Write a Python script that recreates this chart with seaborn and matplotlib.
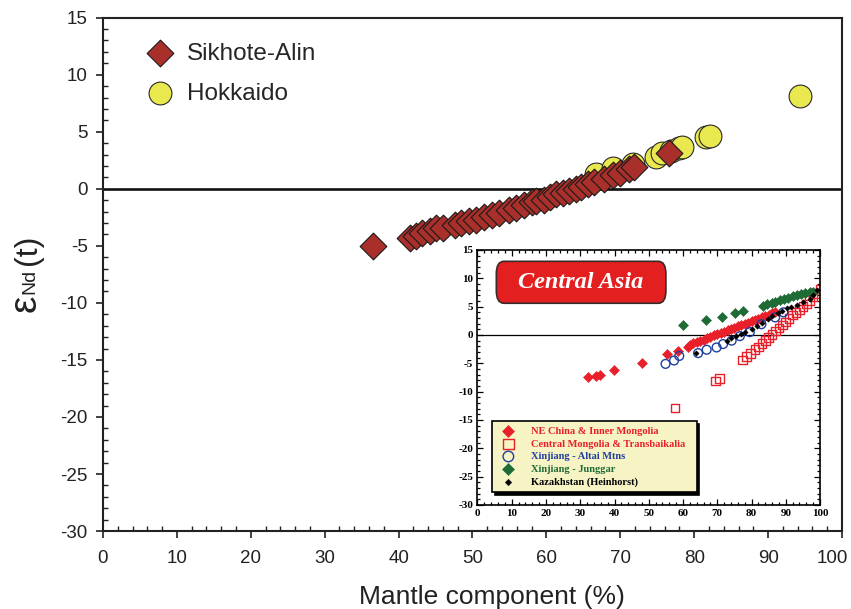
import matplotlib
matplotlib.use("Agg")
import matplotlib.pyplot as plt
import matplotlib.transforms as mtransforms
import seaborn as sns
from matplotlib.patches import FancyBboxPatch
from matplotlib.ticker import MultipleLocator

# ── data ─────────────────────────────────────────────────────────────────────
sikhote_x = [36.5, 41.5, 42.4, 43.2, 44.2, 45.1, 46.0, 47.6, 48.5, 49.5, 50.5, 51.5,
             52.7, 53.6, 55.0, 55.9, 57.0, 58.0, 58.6, 59.7, 60.5, 61.3, 62.2, 63.0,
             64.0, 64.7, 65.6, 66.5, 67.8, 69.0, 70.0, 71.2, 71.8, 76.6]
sikhote_y = [-5.0, -4.3, -4.1, -3.9, -3.7, -3.4, -3.4, -3.2, -3.0, -2.8, -2.7, -2.5,
             -2.3, -2.1, -1.9, -1.7, -1.4, -1.2, -1.1, -1.0, -0.7, -0.5, -0.4, -0.2,
             0.0, 0.2, 0.4, 0.6, 0.9, 1.2, 1.4, 1.7, 1.9, 3.1]
hokkaido_x = [66.7, 69.0, 71.7, 74.8, 75.7, 76.8, 78.0, 78.4, 81.6, 82.2, 94.3]
hokkaido_y = [1.3, 1.8, 2.2, 2.8, 3.1, 3.3, 3.6, 3.7, 4.5, 4.6, 8.1]

# inset (Central Asia)
nec_x = [32.3, 34.7, 35.7, 39.8, 47.9, 55.2, 58.4, 61.5, 62, 63, 64, 65, 66, 67, 68, 69,
         70, 71, 72, 73, 74, 75, 76, 77, 78, 79, 80, 81, 82, 83, 84, 85, 86, 87]
nec_y = [-7.5, -7.2, -7.0, -6.2, -4.9, -3.4, -2.9, -2.1, -1.8, -1.5, -1.3, -1.0, -0.8,
         -0.5, -0.3, 0.0, 0.2, 0.4, 0.6, 0.9, 1.1, 1.3, 1.6, 1.8, 2.0, 2.2, 2.4, 2.7,
         2.9, 3.1, 3.3, 3.5, 3.8, 4.0]
cmt_x = [57.6, 69.5, 70.6, 77.4, 78.5, 79.7, 81, 82, 83, 84, 85, 86, 87, 88, 89, 90,
         91, 92, 93, 94, 95, 96, 97, 98, 99, 100]
cmt_y = [-12.9, -8.1, -7.7, -4.4, -3.8, -3.3, -2.6, -2.1, -1.5, -1.0, -0.4, 0.1, 0.7,
         1.2, 1.8, 2.3, 2.9, 3.5, 4.0, 4.5, 5.0, 5.5, 6.1, 6.7, 7.3, 8.1]
altai_x = [54.9, 57.4, 58.9, 64.4, 66.9, 69.8, 71.7, 74.2, 76.6, 79.5, 82.9, 86.9, 89.3]
altai_y = [-5.1, -4.5, -3.7, -3.2, -2.6, -2.2, -1.6, -1.0, -0.2, 0.5, 1.9, 3.1, 4.0]
jung_x = [60.0, 66.7, 71.3, 75.2, 77.4, 83.4, 84.5, 85.9, 87.0, 88.3, 89.5, 90.7, 92.0,
          93.2, 94.5, 95.6, 97.0, 98.0]
jung_y = [1.8, 2.6, 3.2, 3.9, 4.2, 5.2, 5.5, 5.7, 5.9, 6.1, 6.3, 6.5, 6.8, 7.1, 7.2,
          7.4, 7.5, 7.6]
kaz_x = [63.8, 72.9, 74.0, 75.6, 77.0, 78.1, 80.0, 81.5, 83.0, 84.9, 86.0, 87.8, 89.0,
         90.3, 91.5, 93.2, 95.0, 97.1, 98.0, 99.1]
kaz_y = [-3.2, -1.0, -0.6, -0.2, 0.2, 0.5, 1.1, 1.6, 2.2, 2.8, 3.3, 3.9, 4.3, 4.7, 4.9,
         5.3, 5.8, 6.3, 7.0, 7.9]

sns.set_style("ticks")
plt.rcParams["font.family"] = ["Liberation Sans", "DejaVu Sans"]
plt.rcParams["axes.unicode_minus"] = False

fig = plt.figure(figsize=(8.51, 6.09), dpi=100)
ax = fig.add_axes([0.121, 0.128, 0.8684, 0.843])

# ── main plot ────────────────────────────────────────────────────────────────
ax.axhline(0, color="#111111", lw=1.9, zorder=1)
sns.scatterplot(x=hokkaido_x, y=hokkaido_y, ax=ax, marker="o", s=270,
                color="#E9E84E", edgecolor="#2a2a2a", linewidth=0.8,
                label="Hokkaido", zorder=3, legend=False)
sns.scatterplot(x=sikhote_x, y=sikhote_y, ax=ax, marker="D", s=185,
                color="#A9302A", edgecolor="#1a1a1a", linewidth=0.8,
                label="Sikhote-Alin", zorder=4, legend=False)

ax.set_xlim(0, 100)
ax.set_ylim(-30, 15)
ax.set_xticks(range(0, 101, 10))
ax.xaxis.set_minor_locator(MultipleLocator(2))
ax.yaxis.set_major_locator(MultipleLocator(5))
ax.yaxis.set_minor_locator(MultipleLocator(1))
ax.tick_params(which="major", direction="out", length=5, width=1.2,
               labelsize=13.5, colors="#222222")
ax.tick_params(axis="x", which="major", pad=9)
ax.tick_params(axis="y", which="major", pad=6)
ax.tick_params(which="minor", direction="in", length=3.5, width=1, colors="#222222")
for sp in ax.spines.values():
    sp.set_linewidth(1.5)
    sp.set_color("#222222")

# last x label sits slightly left so it fits in the figure
fig.canvas.draw()
for lab in ax.get_xticklabels():
    if lab.get_text() == "100":
        lab.set_transform(lab.get_transform() +
                          mtransforms.ScaledTranslation(-7 / 72, 0, fig.dpi_scale_trans))

ax.set_xlabel("Mantle component (%)", fontsize=19, color="#222222")
ax.xaxis.set_label_coords(0.527, -0.105)
ax.set_ylabel("")
fig.text(26 / 851, 1 - 303 / 609, "ε", fontsize=28, rotation=90,
         ha="center", va="center", color="#222222")
fig.text(30 / 851, 1 - 281 / 609, "Nd", fontsize=14, rotation=90,
         ha="center", va="center", color="#222222")
fig.text(28 / 851, 1 - 250 / 609, "(t)", fontsize=23, rotation=90,
         ha="center", va="center", color="#222222")

h, l = ax.get_legend_handles_labels()
order = [l.index("Sikhote-Alin"), l.index("Hokkaido")]
ax.legend([h[i] for i in order], [l[i] for i in order], loc="upper left",
          bbox_to_anchor=(0.0387, 0.970), frameon=False, fontsize=17.5,
          handlelength=1.5, handletextpad=0.39, labelspacing=0.74,
          borderaxespad=0)

# ── inset: Central Asia ──────────────────────────────────────────────────────
ins = fig.add_axes([0.5611, 0.1708, 0.4025, 0.4187])
ins.set_facecolor("white")
ins.axhline(0, color="black", lw=0.9, zorder=1)
sns.scatterplot(x=cmt_x, y=cmt_y, ax=ins, marker="s", s=38, facecolor="none",
                edgecolor="#E8202A", linewidth=1.0,
                label="Central Mongolia & Transbaikalia", legend=False, zorder=2)
sns.scatterplot(x=altai_x, y=altai_y, ax=ins, marker="o", s=40, facecolor="none",
                edgecolor="#1F3FA0", linewidth=1.0,
                label="Xinjiang - Altai Mtns", legend=False, zorder=3)
sns.scatterplot(x=nec_x, y=nec_y, ax=ins, marker="D", s=26, color="#E8202A",
                edgecolor="#E8202A", label="NE China & Inner Mongolia",
                legend=False, zorder=2)
sns.scatterplot(x=jung_x, y=jung_y, ax=ins, marker="D", s=26, color="#1E6B35",
                edgecolor="#1E6B35", label="Xinjiang - Junggar",
                legend=False, zorder=3)
sns.scatterplot(x=kaz_x, y=kaz_y, ax=ins, marker="D", s=8, color="black",
                edgecolor="black", label="Kazakhstan (Heinhorst)",
                legend=False, zorder=4)

ins.set_xlim(0, 100)
ins.set_ylim(-30, 15)
ins.xaxis.set_major_locator(MultipleLocator(10))
ins.xaxis.set_minor_locator(MultipleLocator(2))
ins.yaxis.set_major_locator(MultipleLocator(5))
ins.yaxis.set_minor_locator(MultipleLocator(1))
ins.tick_params(which="both", direction="in", top=True, right=True,
                width=0.9, colors="black")
ins.tick_params(which="major", length=4, pad=3)
ins.tick_params(which="minor", length=2.2)
for lab in ins.get_xticklabels() + ins.get_yticklabels():
    lab.set_fontfamily("Liberation Serif")
    lab.set_fontweight("bold")
    lab.set_fontsize(8)
for sp in ins.spines.values():
    sp.set_linewidth(1.2)
    sp.set_color("black")

ins.add_patch(FancyBboxPatch((5.5, 5.6), 49.5, 7.4,
                             boxstyle="round,pad=0,rounding_size=2.2",
                             facecolor="#E3201F", edgecolor="#3a2a2a", lw=1.2,
                             zorder=5))
ins.text(30.2, 9.3, "Central Asia", color="white", fontsize=17.5,
         fontfamily="Liberation Serif", fontweight="bold", fontstyle="italic",
         ha="center", va="center", zorder=6)

h2, l2 = ins.get_legend_handles_labels()
names = ["NE China & Inner Mongolia", "Central Mongolia & Transbaikalia",
         "Xinjiang - Altai Mtns", "Xinjiang - Junggar", "Kazakhstan (Heinhorst)"]
txt_colors = ["#E8202A", "#E8202A", "#1F3FA0", "#1E6B35", "black"]
leg = ins.legend([h2[l2.index(n)] for n in names], names, loc="lower left",
                 bbox_to_anchor=(0.043, 0.049, 0.597, 0.278), mode="expand",
                 prop=dict(family="Liberation Serif", weight="bold", size=7.5),
                 facecolor="#F6F3C4", edgecolor="black", framealpha=1,
                 fancybox=False, shadow={"color": "black", "alpha": 1},
                 labelspacing=0.32, handletextpad=1.2, borderpad=0.55,
                 borderaxespad=0, markerscale=1.2)
leg.get_frame().set_linewidth(1.2)
for t, c in zip(leg.get_texts(), txt_colors):
    t.set_color(c)

plt.savefig("out.png", dpi=100)
plt.close()
